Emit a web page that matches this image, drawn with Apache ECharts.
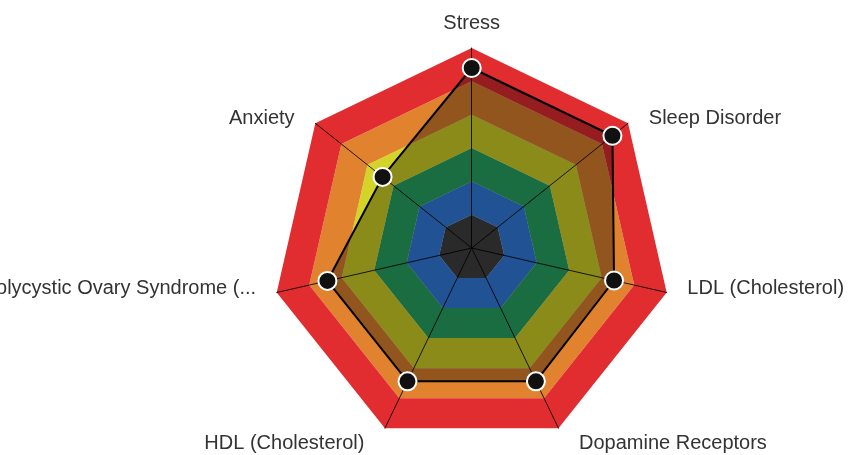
<!DOCTYPE html>
<html>
<head>
	<meta charset="utf-8">
	<title>Radar</title>
	<script src="https://cdn.jsdelivr.net/npm/echarts@6/dist/echarts.min.js"></script>
	<style>
		html, body { margin: 0; padding: 0; background: #fff; }
		#main { width: 862px; height: 455px; }
	</style>
</head>
<body>
	<div id="main"></div>
	<script type="text/javascript">
		// categories in the order they appear, clockwise from the top
		var categories = ['Stress', 'Sleep Disorder', 'LDL (Cholesterol)', 'Dopamine Receptors',
			'HDL (Cholesterol)', 'Polycystic Ovary Syndrome (PCOS)', 'Anxiety'];
		var values = [90, 90, 73, 74, 74, 74, 57];
		var maxValue = 100;
		var bandColors = ['#404040', '#337de0', '#28a463', '#d4d428', '#e0822e', '#e22d30'];

		// echarts lays indicators out counter-clockwise, so keep the first one and reverse the rest
		var order = [0];
		for (var i = categories.length - 1; i > 0; i--) order.push(i);

		// label nudges so the names sit like the original (by position around the web)
		var nameStyle = ['top', 'side', 'mid', 'low', 'low', 'mid', 'side'];

		var font = { color: '#333', fontSize: 20, fontFamily: 'Liberation Sans, Arial, sans-serif' };
		function rich(pad) {
			return Object.assign({ padding: pad }, font);
		}

		var myChart = echarts.init(document.getElementById('main'));
		var option = {
			animation: false,
			radar: {
				center: [471.7, 248],
				radius: 200,
				startAngle: 90,
				splitNumber: 6,
				shape: 'polygon',
				axisNameGap: 15,
				indicator: order.map(function (i) {
					return { name: categories[i], max: maxValue, min: 0 };
				}),
				axisName: Object.assign({
					formatter: function (name) {
						var k = nameStyle[categories.indexOf(name)];
						var txt = name.length > 27 ? name.slice(0, 27) + '...' : name;
						return '{' + k + '|' + txt + '}';
					},
					rich: {
						top: rich([0, 0, 0, 0]),
						side: rich([10, 9, 0, 9]),
						mid: rich([0, 6, 14, 6]),
						low: rich([4, 14, 0, 14])
					}
				}, font),
				splitArea: {
					show: true,
					areaStyle: { color: bandColors, opacity: 1 }
				},
				splitLine: { show: false },
				axisLine: { show: true, lineStyle: { color: '#000', width: 1, opacity: 0.85 } }
			},
			series: [{
				type: 'radar',
				symbol: 'circle',
				symbolSize: 18,
				itemStyle: { color: '#111', borderColor: '#fff', borderWidth: 2 },
				lineStyle: { color: '#000', width: 2 },
				areaStyle: { color: '#000', opacity: 0.34 },
				data: [{ value: order.map(function (i) { return values[i]; }) }]
			}]
		};
		myChart.setOption(option);
	</script>
</body>
</html>
